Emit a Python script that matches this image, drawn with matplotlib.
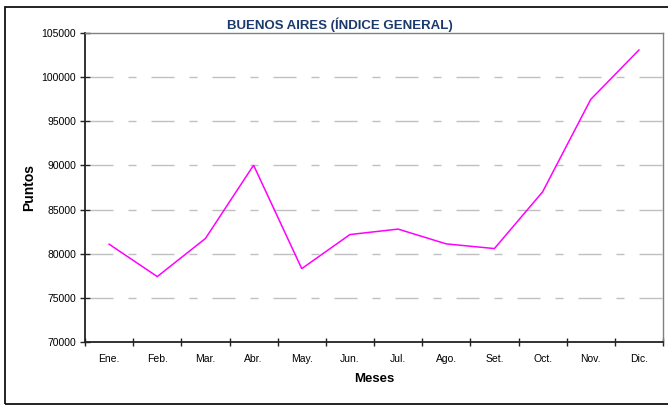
import matplotlib
matplotlib.use("Agg")
import matplotlib.pyplot as plt
from matplotlib.patches import Rectangle

months = ["Ene.", "Feb.", "Mar.", "Abr.", "May.", "Jun.", "Jul.", "Ago.", "Set.", "Oct.", "Nov.", "Dic."]
values = [81070, 77390, 81710, 90030, 78290, 82160, 82780, 81100, 80570, 87000, 97500, 103100]
yticks = [70000, 75000, 80000, 85000, 90000, 95000, 100000, 105000]

plt.rcParams['font.family'] = ['Liberation Sans', 'DejaVu Sans']

W, H = 668, 405
fig = plt.figure(figsize=(W / 100, H / 100), dpi=100)

def fx(px):
    return px / W

def fy(py):
    return 1 - py / H

left, right, top, bottom = 85, 663, 33.3, 341.7
ax = fig.add_axes([fx(left), fy(bottom), fx(right - left), (bottom - top) / H])

xs = [i + 0.5 for i in range(len(months))]
ax.plot(xs, values, color="#FF00FF", lw=1.1, solid_joinstyle="miter", zorder=3)

ax.set_xlim(0, len(months))
ax.set_ylim(70000, 105000)
ax.set_yticks(yticks)
ax.set_yticklabels([str(v) for v in yticks], fontsize=7.5)
ax.set_xticks(range(len(months) + 1))
ax.set_xticklabels([])
ax.set_xticks(xs, minor=True)
ax.set_xticklabels(months, minor=True, fontsize=7.5)
ax.tick_params(axis="x", which="minor", length=0, pad=9)
ax.tick_params(axis="x", which="major", direction="inout", length=6, width=1, color="#222222")
ax.tick_params(axis="y", direction="inout", length=7, width=1, color="#222222", pad=3)

px2pt = 0.72
dash = (56 * px2pt, (23 * px2pt, 15 * px2pt, 8 * px2pt, 15 * px2pt))
for v in yticks[1:-1]:
    ax.axhline(v, color="#c0c0c0", lw=1.0, linestyle=dash, zorder=1)

for s in ["top", "right"]:
    ax.spines[s].set_color("#808080")
    ax.spines[s].set_linewidth(1.0)
for s in ["left", "bottom"]:
    ax.spines[s].set_color("#222222")
    ax.spines[s].set_linewidth(1.3)

ax.set_xlabel("Meses", fontsize=9.5, fontweight="bold", labelpad=6)
ax.set_ylabel("Puntos", fontsize=10, fontweight="bold", labelpad=4)

fig.text(fx(340), fy(24.5), "BUENOS AIRES (ÍNDICE GENERAL)", ha="center", va="center",
         fontsize=9.5, fontweight="bold", color="#1B3A6B")

fig.patches.append(Rectangle((fx(5), fy(404)), fx(670 - 5), (404 - 6.5) / H,
                             transform=fig.transFigure, fill=False, edgecolor="#111111", lw=1.3))

fig.savefig("out.png", dpi=100)
